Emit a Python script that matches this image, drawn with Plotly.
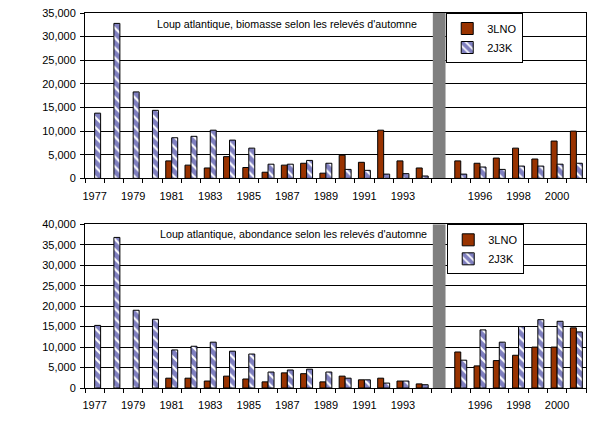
import plotly.graph_objects as go
from plotly.subplots import make_subplots

# categories: 1977-1994, a blank break slot, 1995-2001
years = [str(y) for y in range(1977, 1995)] + [" "] + [str(y) for y in range(1995, 2002)]
tick_labels = [y if i % 2 == 0 else "" for i, y in enumerate(years)]

# biomasse (top)
bio_3lno = [None, None, None, None, 3700, 2800, 2200, 4600, 2300, 1300, 2800, 3200, 1100, 4900, 3400, 10200, 3700, 2200,
            None, 3700, 3200, 4300, 6400, 4100, 7900, 10000]
bio_2j3k = [13800, 32800, 18300, 14400, 8600, 8900, 10200, 8100, 6400, 3000, 3000, 3800, 3200, 1900, 1700, 900, 1000, 500,
            None, 900, 2400, 1900, 2600, 2600, 3000, 3200]

# abondance (bottom)
abo_3lno = [None, None, None, None, 2400, 2400, 1700, 2900, 2200, 1500, 3700, 3500, 1500, 2900, 2000, 2400, 1700, 1000,
            None, 8800, 5400, 6700, 8000, 10000, 10000, 14700]
abo_2j3k = [15300, 36800, 19000, 16800, 9300, 10200, 11200, 9000, 8300, 3900, 4400, 4600, 3900, 2400, 2000, 1200, 1700, 800,
            None, 6800, 14200, 11200, 15000, 16700, 16300, 13700]

# grey break bar in the blank slot
brk_top = [35000 if y == " " else None for y in years]
brk_bot = [40000 if y == " " else None for y in years]

BROWN = "#993300"
NAVY = "#000080"
FONT = "Liberation Sans, Arial, sans-serif"

fig = make_subplots(rows=2, cols=1)

def add_panel(row, v3lno, v2j3k, brk, legend):
    fig.add_trace(go.Bar(x=years, y=brk, marker=dict(color="#808080", line=dict(width=0)),
                         offset=-0.45, width=0.66, showlegend=False, hoverinfo="skip"), row=row, col=1)
    fig.add_trace(go.Bar(x=years, y=v3lno, name="3LNO", legend=legend,
                         marker=dict(color=BROWN, line=dict(color="black", width=1)),
                         offset=-0.31, width=0.31), row=row, col=1)
    fig.add_trace(go.Bar(x=years, y=v2j3k, name="2J3K", legend=legend,
                         marker=dict(color="white", line=dict(color="black", width=1),
                                     pattern=dict(shape="\\", fgcolor=NAVY, bgcolor="white",
                                                  size=7, solidity=0.7)),
                         offset=0, width=0.31), row=row, col=1)

add_panel(1, bio_3lno, bio_2j3k, brk_top, "legend")
add_panel(2, abo_3lno, abo_2j3k, brk_bot, "legend2")

fig.update_layout(
    width=593, height=426,
    margin=dict(l=85, r=7, t=13, b=38),
    barmode="overlay",
    paper_bgcolor="white", plot_bgcolor="white",
    font=dict(family=FONT, size=11, color="black"),
    legend=dict(x=0.721, y=1.0, xanchor="left", yanchor="top", bgcolor="white",
                bordercolor="black", borderwidth=1, itemwidth=30, font=dict(size=11)),
    legend2=dict(x=0.723, y=0.4365, xanchor="left", yanchor="top", bgcolor="white",
                 bordercolor="black", borderwidth=1, itemwidth=30, font=dict(size=11)),
)

xcommon = dict(type="category", categoryorder="array", categoryarray=years,
               tickmode="array", tickvals=years, ticktext=tick_labels,
               tickson="boundaries", ticks="outside", ticklen=4, tickcolor="black",
               showline=True, linecolor="black", linewidth=1, mirror=True,
               showgrid=False, range=[-0.5, len(years) - 0.5], tickangle=0, automargin=False,
               ticklabelstandoff=7)
fig.update_xaxes(**xcommon)

ycommon = dict(tickformat=",d", dtick=5000, ticks="outside", ticklen=4, tickcolor="black",
               showline=True, linecolor="black", linewidth=1, mirror=True,
               showgrid=True, gridcolor="black", gridwidth=1, zeroline=False, automargin=False,
               ticklabelstandoff=2)
fig.update_yaxes(**ycommon)
fig.update_yaxes(range=[0, 35000], domain=[0.559, 1.0], row=1, col=1)
fig.update_yaxes(range=[0, 40000], domain=[0.0, 0.4365], row=2, col=1)

fig.add_annotation(text="Loup atlantique, biomasse selon les relevés d'automne",
                   xref="paper", yref="paper", x=0.403, y=0.9707, showarrow=False,
                   xanchor="center", yanchor="middle", font=dict(size=10.7))
fig.add_annotation(text="Loup atlantique, abondance selon les relevés d'automne",
                   xref="paper", yref="paper", x=0.4166, y=0.4107, showarrow=False,
                   xanchor="center", yanchor="middle", font=dict(size=10.7))

# drop the default page margin so the 593x426 figure sits flush in the window
fig.write_html("out.html", config={"displayModeBar": False},
               post_script="document.body.style.margin='0';document.body.style.overflow='hidden';")
